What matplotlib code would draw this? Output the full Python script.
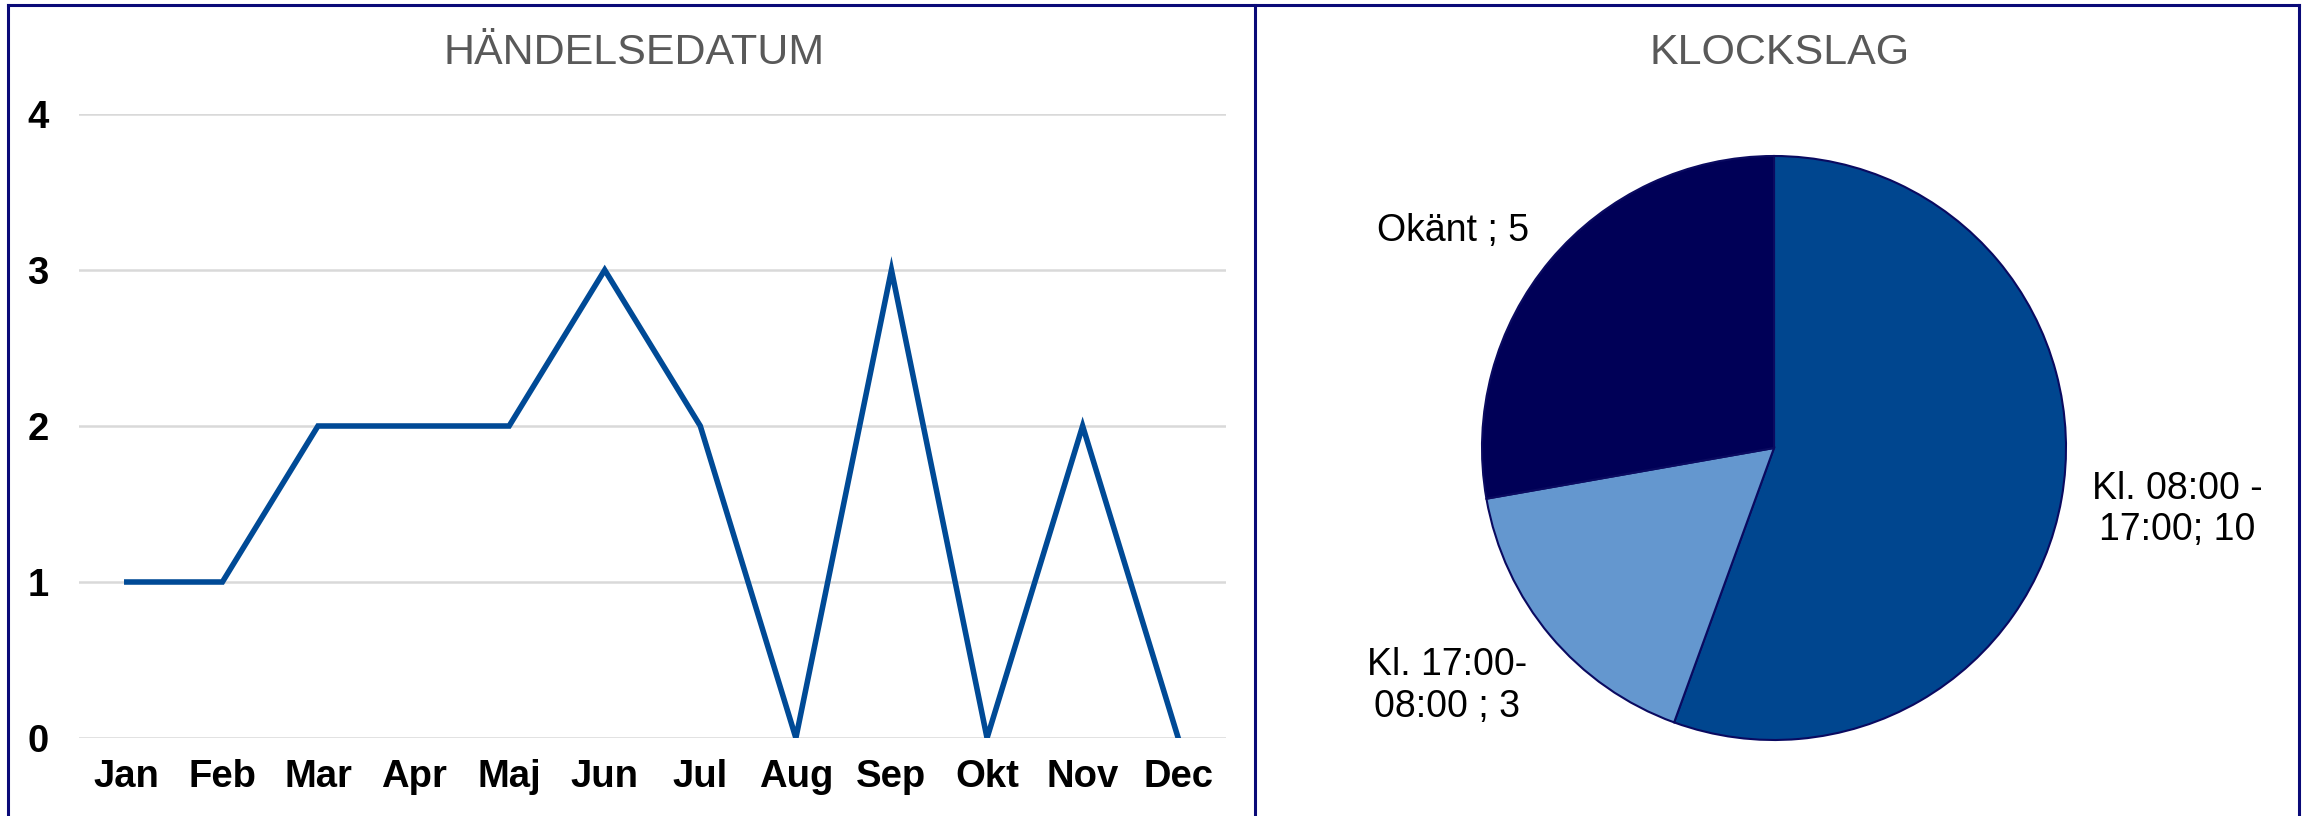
import matplotlib
matplotlib.use('Agg')
import matplotlib.pyplot as plt
from matplotlib.lines import Line2D
import numpy as np

plt.rcParams['font.family'] = ['Liberation Sans', 'DejaVu Sans']

# data
months = ['Jan', 'Feb', 'Mar', 'Apr', 'Maj', 'Jun', 'Jul', 'Aug', 'Sep', 'Okt', 'Nov', 'Dec']
counts = [1, 1, 2, 2, 2, 3, 2, 0, 3, 0, 2, 0]

time_labels = ['Kl. 08:00 -\n17:00; 10', 'Kl. 17:00-\n08:00 ; 3', 'Okänt ; 5']
time_values = [10, 3, 5]
time_colors = ['#00468F', '#6497CF', '#000057']

W, H = 2313, 816
fig = plt.figure(figsize=(W / 100, H / 100), dpi=100)
fig.patch.set_facecolor('white')

def fx(px):
    return px / W

def fy(py):
    return 1 - py / H

# frame lines around the two panels
navy = '#0A0A78'
for xs, ys in [([8, 2299], [5, 5]), ([8, 8], [5, 816]), ([1255, 1255], [5, 816]), ([2299, 2299], [5, 816])]:
    fig.add_artist(Line2D([fx(x) for x in xs], [fy(y) for y in ys], color=navy, lw=2.2,
                          transform=fig.transFigure))

# --- line chart ---
ax = fig.add_axes([fx(79), fy(738), fx(1226) - fx(79), fy(114) - fy(738)])
x = np.arange(len(months))
ax.plot(x, counts, color='#004A96', lw=4, solid_joinstyle='miter', zorder=3)
ax.set_xlim(-0.5, len(months) - 0.5)
ax.set_ylim(0, 4)
ax.set_yticks([0, 1, 2, 3, 4])
ax.set_xticks(x)
ax.set_xticklabels(months)
ax.grid(axis='y', color='#D9D9D9', lw=1.8)
ax.set_axisbelow(True)
for s in ax.spines.values():
    s.set_visible(False)
ax.tick_params(axis='both', length=0, labelsize=27.5)
ax.tick_params(axis='x', pad=15)
ax.tick_params(axis='y', pad=22)
for lab in ax.get_xticklabels() + ax.get_yticklabels():
    lab.set_fontweight('bold')

fig.text(fx(634), fy(53), 'HÄNDELSEDATUM', ha='center', va='center', fontsize=31, color='#595959')

# --- pie chart ---
r = 292
cx, cy = 1774, 448
pax = fig.add_axes([fx(cx - r), fy(cy + r), fx(2 * r), fy(cy - r) - fy(cy + r)])
wedges, _ = pax.pie(time_values, colors=time_colors, startangle=90, counterclock=False,
                    wedgeprops=dict(edgecolor='#0A0A60', linewidth=1.5))
pax.set_xlim(-1, 1)
pax.set_ylim(-1, 1)
pax.set_aspect('auto')

# label distance (in radii) and a small angle shift, placed like excel does
label_dist = [1.396, 1.385, 1.327]
label_shift = [1.3, -4.0, 5.9]
for w, lab, d, sh in zip(wedges, time_labels, label_dist, label_shift):
    ang = np.deg2rad((w.theta1 + w.theta2) / 2 + sh)
    pax.text(d * np.cos(ang), d * np.sin(ang), lab, ha='center', va='center',
             fontsize=27, linespacing=1.2, clip_on=False)

fig.text(fx(1780), fy(53), 'KLOCKSLAG', ha='center', va='center', fontsize=31, color='#595959')

fig.savefig('out.png', dpi=100, facecolor='white')
